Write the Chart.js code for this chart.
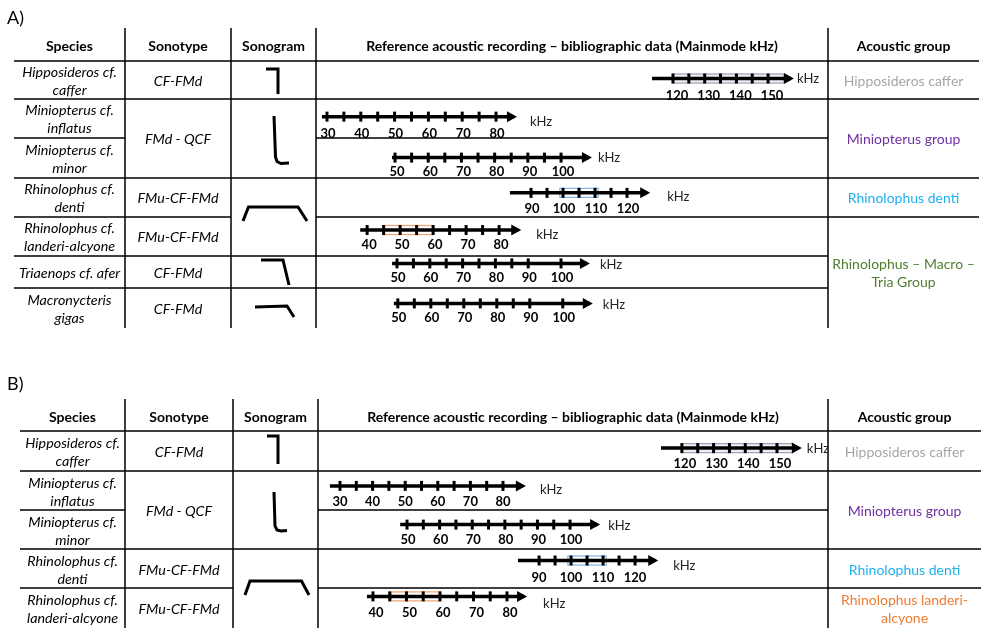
<!DOCTYPE html>
<html lang="en">
<head>
<meta charset="utf-8">
<title>Reference acoustic recordings</title>
<script src="https://cdn.jsdelivr.net/npm/chart.js@4.4.1/dist/chart.umd.min.js"></script>
<style>
  html, body { margin: 0; padding: 0; background: #fff; }
  #page { position: relative; width: 981px; height: 628px; overflow: hidden; }
  canvas { position: absolute; left: 0; display: block; }
</style>
</head>
<body>
<div id="page">
  <canvas id="panel-a" width="981" height="340" style="top:0"></canvas>
  <canvas id="panel-b" width="981" height="288" style="top:340px"></canvas>
</div>
<script>
// column headers, same for both tables
const headers = ["Species", "Sonotype", "Sonogram",
  "Reference acoustic recording – bibliographic data (Mainmode kHz)", "Acoustic group"];

// ---- table A ----
const speciesA = [
  ["Hipposideros cf.", "caffer"],
  ["Miniopterus cf.", "inflatus"],
  ["Miniopterus cf.", "minor"],
  ["Rhinolophus cf.", "denti"],
  ["Rhinolophus cf.", "landeri-alcyone"],
  ["Triaenops cf. afer"],
  ["Macronycteris", "gigas"]
];
const sonotypeA = ["CF-FMd", "FMd - QCF", "FMu-CF-FMd", "FMu-CF-FMd", "CF-FMd", "CF-FMd"];
const groupA = [["Hipposideros caffer"], ["Miniopterus group"], ["Rhinolophus denti"], ["Rhinolophus – Macro –", "Tria Group"]];
const groupColorA = ["#a6a6a6", "#7030a0", "#1fb0ee", "#4f7d2e"];
// small marks on each arrow (kHz)
const marksA = [
  [120, 125, 130, 135, 140, 145, 150],
  [30, 35, 40, 45, 50, 55, 60, 65, 70, 75, 80],
  [50, 55, 60, 65, 70, 75, 80, 85, 90, 95, 100],
  [90, 95, 100, 105, 110, 115, 120],
  [40, 45, 50, 55, 60, 65, 70, 75, 80],
  [50, 55, 60, 65, 70, 75, 80, 85, 90, 100],
  [50, 55, 60, 65, 70, 75, 80, 85, 90, 100]
];
// numbered ticks
const tickLabelsA = [
  [120, 130, 140, 150],
  [30, 40, 50, 60, 70, 80],
  [50, 60, 70, 80, 90, 100],
  [90, 100, 110, 120],
  [40, 50, 60, 70, 80],
  [50, 60, 70, 80, 90, 100],
  [50, 60, 70, 80, 90, 100]
];
// start / end of each arrow (kHz)
const rangeA = [[113.4, 157.2], [28.5, 85.3], [49.1, 108.4], [83.4, 126.3], [37.9, 85.8], [48.5, 107.9], [48.8, 108.2]];
// mainmode box (kHz)
const mainmodeA = [[120, 155], null, null, [99, 111], [45, 60], null, null];
const mainmodeColorA = ["#a3a3bb", null, null, "#8fb8e0", "#f0a878"];

// ---- table B ----
const speciesB = [
  ["Hipposideros cf.", "caffer"],
  ["Miniopterus cf.", "inflatus"],
  ["Miniopterus cf.", "minor"],
  ["Rhinolophus cf.", "denti"],
  ["Rhinolophus cf.", "landeri-alcyone"]
];
const sonotypeB = ["CF-FMd", "FMd - QCF", "FMu-CF-FMd", "FMu-CF-FMd"];
const groupB = [["Hipposideros caffer"], ["Miniopterus group"], ["Rhinolophus denti"], ["Rhinolophus landeri-", "alcyone"]];
const groupColorB = ["#a6a6a6", "#7030a0", "#1fb0ee", "#ed7d31"];
const marksB = [
  [120, 125, 130, 135, 140, 145, 150],
  [30, 35, 40, 45, 50, 55, 60, 65, 70, 75, 80],
  [50, 55, 60, 65, 70, 75, 80, 85, 90, 95, 100],
  [90, 95, 100, 105, 110, 115, 120],
  [40, 45, 50, 55, 60, 65, 70, 75, 80]
];
const tickLabelsB = [
  [120, 130, 140, 150],
  [30, 40, 50, 60, 70, 80],
  [50, 60, 70, 80, 90, 100],
  [90, 100, 110, 120],
  [40, 50, 60, 70, 80]
];
const rangeB = [[113.4, 156.9], [26.9, 86.1], [47.9, 108.3], [83.4, 126.3], [38.2, 85.1]];
const mainmodeB = [[120, 155], null, null, [99, 111], [45.5, 60]];
const mainmodeColorB = ["#a3a3bb", null, null, "#8fb8e0", "#f0a878"];

// ---- layout (pixels inside each canvas) ----
const FONT = "Lato, 'Open Sans', sans-serif";

const layoutA = {
  width: 981, height: 340, label: "A)", labelY: 18,
  cols: [14, 125, 231, 316, 828, 979],
  top: 28, headY: 46,
  rows: [61, 99, 138, 178, 217, 256, 288, 328],
  rules: [[0, [0, 1, 2, 3, 4]], [1, [0, 1, 2, 3, 4]], [2, [0, 3]], [3, [0, 1, 2, 3, 4]],
          [4, [0, 1, 3, 4]], [5, [0, 1, 2, 3]], [6, [0, 1, 2, 3]]],
  sonotypeSpans: [[0, 1], [1, 3], [3, 4], [4, 5], [5, 6], [6, 7]],
  groupSpans: [[0, 1], [1, 3], [3, 4], [4, 7]],
  textShift: 1,
  lineY: [74, 114, 157, 194, 233, 268, 310],
  labelDrop: [17, 17, 14, 16, 15, 14, 14],
  labelShift: [4, 1, 2, 1, 2, 1, 1],
  khzGap: [3, 13, 6, 17, 15, 10, 10],
  khzDy: [0, 5, 0, 4, 5, 1, 1],
  window: [[7.4, 168.9], [26.75, 178.2], [26.2, 180.4], [22.8, 182.8], [24.5, 179.7], [25.3, 181.4], [25.2, 180.4]],
  glyphs: [
    [[266, 69], [278, 69], [278, 94]],
    [[274, 116], [275.5, 157], [277, 161.5], [281, 163.5], [289, 163]],
    [[243, 221], [248.5, 207], [298, 207], [307, 221]],
    [[261, 260], [283, 260], [289, 285]],
    [[255, 307], [287, 306], [294, 317]]
  ]
};

const layoutB = {
  width: 981, height: 288, label: "B)", labelY: 44,
  cols: [20, 125, 233, 318, 828, 981],
  top: 59, headY: 77,
  rows: [91, 131, 170, 209, 248, 288],
  rules: [[0, [0, 1, 2, 3, 4]], [1, [0, 1, 2, 3, 4]], [2, [0, 3]], [3, [0, 1, 2, 3, 4]], [4, [0, 1, 3, 4]]],
  sonotypeSpans: [[0, 1], [1, 3], [3, 4], [4, 5]],
  groupSpans: [[0, 1], [1, 3], [3, 4], [4, 5]],
  textShift: 1.5,
  lineY: [106, 146, 187, 225, 263],
  labelDrop: [16, 16, 15, 17, 16],
  labelShift: [3, 0, 1, 0, 3],
  khzGap: [5, 14, 8, 15, 16],
  khzDy: [1, 4, 1, 5, 7],
  window: [[5.2, 166.1], [23.25, 179.7], [22.7, 179.1], [20.9, 180.3], [23.6, 175.8]],
  glyphs: [
    [[267, 96], [278, 96], [278, 124]],
    [[274, 152], [275, 186], [277, 190], [281, 191], [287, 190.5]],
    [[245, 255], [250, 241], [301.5, 241], [309, 255]]
  ]
};

function drawLines(ctx, lines, cx, cy) {
  lines.forEach(function (t, k) {
    ctx.fillText(t, cx, cy + (k - (lines.length - 1) / 2) * 18);
  });
}

// table grid, texts, mainmode boxes, arrow heads
function tablePlugin(d, lay) {
  const mid = (a, b) => (lay.rows[a] + lay.rows[b]) / 2 + lay.textShift;
  const colMid = (c) => (lay.cols[c] + lay.cols[c + 1]) / 2;
  return {
    id: "table",
    beforeDraw(chart) {
      const ctx = chart.ctx;
      ctx.save();
      ctx.fillStyle = "#fff";
      ctx.fillRect(0, 0, chart.width, chart.height);

      ctx.strokeStyle = "#000";
      ctx.lineWidth = 1.5;
      ctx.beginPath();
      const last = lay.rows[lay.rows.length - 1];
      lay.cols.slice(1, 5).forEach(function (x) {
        ctx.moveTo(x, lay.top);
        ctx.lineTo(x, last);
      });
      lay.rules.forEach(function (rule) {
        rule[1].forEach(function (c) {
          ctx.moveTo(lay.cols[c], lay.rows[rule[0]]);
          ctx.lineTo(lay.cols[c + 1], lay.rows[rule[0]]);
        });
      });
      ctx.stroke();

      // sonogram sketches
      ctx.lineWidth = 3;
      lay.glyphs.forEach(function (g) {
        ctx.beginPath();
        g.forEach(function (p, k) { k ? ctx.lineTo(p[0], p[1]) : ctx.moveTo(p[0], p[1]); });
        ctx.stroke();
      });

      ctx.fillStyle = "#000";
      ctx.textBaseline = "middle";
      ctx.textAlign = "left";
      ctx.font = "18px " + FONT;
      ctx.fillText(lay.label, 7, lay.labelY);

      ctx.textAlign = "center";
      ctx.font = "bold 14px " + FONT;
      headers.forEach(function (h, c) { ctx.fillText(h, colMid(c), lay.headY); });

      ctx.font = "italic 14.3px " + FONT;
      d.species.forEach(function (s, i) { drawLines(ctx, s, colMid(0), mid(i, i + 1)); });
      d.sonotype.forEach(function (s, i) {
        const sp = lay.sonotypeSpans[i];
        ctx.fillText(s, colMid(1), mid(sp[0], sp[1]));
      });

      ctx.font = "14px " + FONT;
      d.group.forEach(function (g, i) {
        const sp = lay.groupSpans[i];
        ctx.fillStyle = d.groupColor[i];
        drawLines(ctx, g, colMid(4), mid(sp[0], sp[1]));
      });
      ctx.restore();
    },
    beforeDatasetsDraw(chart) {
      const ctx = chart.ctx;
      ctx.save();
      ctx.lineWidth = 1.3;
      d.mainmode.forEach(function (b, i) {
        if (!b) return;
        const axis = chart.scales["row" + i];
        const x0 = axis.getPixelForValue(b[0]);
        const x1 = axis.getPixelForValue(b[1]);
        const y = chart.scales.y.getPixelForValue(lay.lineY[i]);
        ctx.strokeStyle = d.mainmodeColor[i];
        if (i === 0) {
          ctx.fillStyle = "#f1f1f4";
          ctx.fillRect(x0, y - 4.5, x1 - x0, 9);
        }
        ctx.strokeRect(x0, y - 4.5, x1 - x0, 9);
      });
      ctx.restore();
    },
    afterDatasetsDraw(chart) {
      const ctx = chart.ctx;
      ctx.save();
      d.range.forEach(function (r, i) {
        const end = chart.getDatasetMeta(2 * i).data[1];
        const tip = end.x + 3;
        ctx.fillStyle = "#000";
        ctx.beginPath();
        ctx.moveTo(tip, end.y);
        ctx.lineTo(tip - 10, end.y - 5.5);
        ctx.lineTo(tip - 10, end.y + 5.5);
        ctx.closePath();
        ctx.fill();
        ctx.fillStyle = "#222";
        ctx.font = "13px " + FONT;
        ctx.textAlign = "left";
        ctx.textBaseline = "middle";
        ctx.fillText("kHz", tip + lay.khzGap[i], end.y + lay.khzDy[i]);
      });
      ctx.restore();
    }
  };
}

function makeChart(canvasId, d, lay) {
  const scales = {
    y: { type: "linear", min: 0, max: lay.height, reverse: true, display: false }
  };
  const datasets = [];
  d.marks.forEach(function (marks, i) {
    const id = "row" + i;
    const yPos = lay.lineY[i];
    // one frequency axis per row, sitting on that row's arrow
    scales[id] = {
      type: "linear",
      axis: "x",
      min: lay.window[i][0],
      max: lay.window[i][1],
      bounds: "data",
      position: { y: yPos },
      grid: { display: false, drawTicks: false },
      border: { display: false },
      ticks: {
        autoSkip: false, maxRotation: 0, minRotation: 0, color: "#000",
        padding: lay.labelDrop[i] - 7.8,
        labelOffset: lay.labelShift[i],
        font: { family: FONT, size: 13, weight: "bold" }
      },
      afterBuildTicks: function (axis) {
        axis.ticks = d.tickLabels[i].map((v) => ({ value: v }));
      }
    };
    datasets.push({
      type: "line", xAxisID: id, yAxisID: "y",
      data: d.range[i].map((v) => ({ x: v, y: yPos })),
      borderColor: "#000", borderWidth: 3.5, pointRadius: 0, fill: false
    });
    datasets.push({
      type: "scatter", xAxisID: id, yAxisID: "y",
      data: marks.map((v) => ({ x: v, y: yPos })),
      pointStyle: "line", pointRotation: 90, pointRadius: 5,
      pointBorderWidth: 3, pointBorderColor: "#000", pointBackgroundColor: "#000"
    });
  });

  return new Chart(document.getElementById(canvasId), {
    type: "scatter",
    data: { datasets: datasets },
    options: {
      responsive: false,
      animation: false,
      events: [],
      layout: { padding: { left: lay.cols[3], right: lay.width - lay.cols[4], top: 0, bottom: 0 } },
      scales: scales,
      plugins: { legend: { display: false }, tooltip: { enabled: false } }
    },
    plugins: [tablePlugin(d, lay)]
  });
}

makeChart("panel-a", {
  species: speciesA, sonotype: sonotypeA, group: groupA, groupColor: groupColorA,
  marks: marksA, tickLabels: tickLabelsA, range: rangeA,
  mainmode: mainmodeA, mainmodeColor: mainmodeColorA
}, layoutA);

makeChart("panel-b", {
  species: speciesB, sonotype: sonotypeB, group: groupB, groupColor: groupColorB,
  marks: marksB, tickLabels: tickLabelsB, range: rangeB,
  mainmode: mainmodeB, mainmodeColor: mainmodeColorB
}, layoutB);
</script>
</body>
</html>
